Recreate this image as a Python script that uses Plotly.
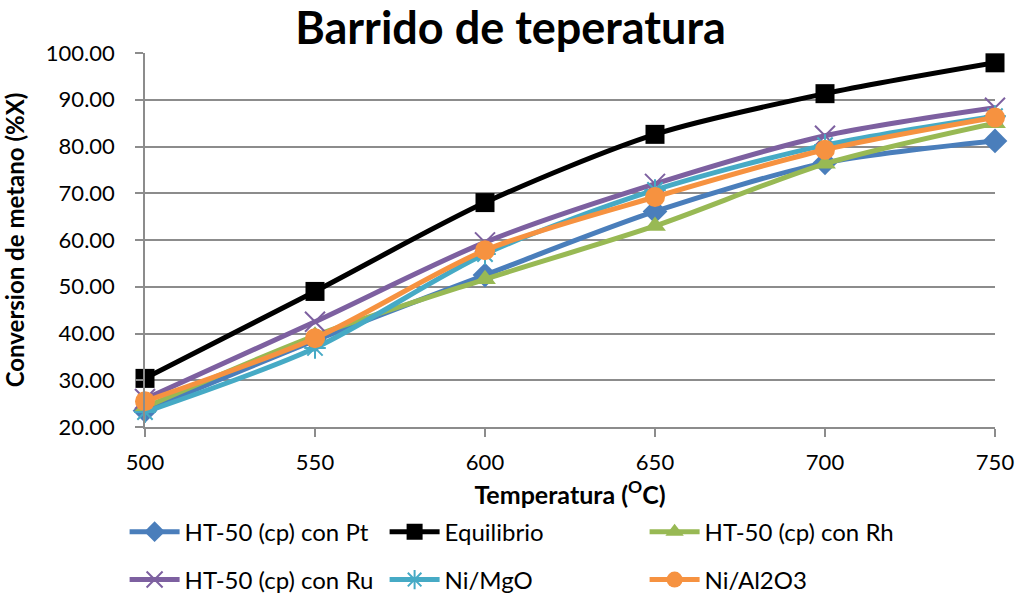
import plotly.graph_objects as go

# Temperature sweep: methane conversion per catalyst
temperatures = [500, 550, 600, 650, 700, 750]

conv_pt = [23.5, 38.5, 52.5, 66.1, 76.5, 81.2]
conv_equilibrio = [30.4, 49.0, 68.0, 82.6, 91.3, 97.9]
conv_rh = [24.2, 39.5, 51.6, 63.0, 76.3, 85.0]
conv_ru = [26.0, 42.5, 59.5, 72.0, 82.3, 88.3]
conv_mgo = [23.2, 36.9, 57.0, 70.7, 80.3, 86.5]
conv_al2o3 = [25.5, 39.0, 57.8, 69.2, 79.3, 86.2]

y_ticks = [20, 30, 40, 50, 60, 70, 80, 90, 100]

FONT = "Lato"
GRID = "#8c8c8c"

series = [
    # name, values, color, symbol, size, legend
    ("HT-50 (cp) con Pt", conv_pt, "#4A7EBB", "diamond", 19, "legend"),
    ("Equilibrio", conv_equilibrio, "#000000", "square", 19, "legend"),
    ("HT-50 (cp) con Rh", conv_rh, "#98B954", "triangle-up", 19, "legend"),
    ("HT-50 (cp) con Ru", conv_ru, "#7D60A0", "x-thin", 20, "legend2"),
    ("Ni/MgO", conv_mgo, "#46AAC5", "asterisk", 18, "legend2"),
    ("Ni/Al2O3", conv_al2o3, "#F69240", "circle", 20, "legend2"),
]

fig = go.Figure()
for name, vals, color, symbol, size, leg in series:
    thin = symbol in ("x-thin", "asterisk")
    fig.add_trace(go.Scatter(
        x=temperatures, y=vals, name=name, mode="lines+markers",
        line=dict(color=color, width=5, shape="spline", smoothing=0.8),
        marker=dict(symbol=symbol, size=size, color=color,
                    line=dict(color=color, width=2 if thin else 0)),
        cliponaxis=False, legend=leg,
    ))

legend_common = dict(orientation="h", xanchor="left", yanchor="middle",
                     entrywidth=195, entrywidthmode="pixels", itemwidth=50,
                     font=dict(family=FONT, size=24), bgcolor="rgba(0,0,0,0)")

fig.update_layout(
    width=1021, height=597,
    margin=dict(l=145, r=26, t=53, b=170, autoexpand=False),
    paper_bgcolor="white", plot_bgcolor="white",
    font=dict(family=FONT, size=22, color="#000000"),
    title=dict(text="<b>Barrido de teperatura</b>", x=0.5, xanchor="center",
               y=0.953, yanchor="middle", font=dict(family=FONT, size=45)),
    xaxis=dict(
        range=[500, 750], tickmode="array", tickvals=temperatures,
        showgrid=False, showline=True, linecolor=GRID, linewidth=1.5,
        ticks="outside", ticklen=8, tickcolor=GRID, tickwidth=1.5,
        ticklabelstandoff=7, zeroline=False,
        title=dict(text="<b>Temperatura (<sup>O</sup>C)</b>",
                   font=dict(family=FONT, size=25), standoff=12),
    ),
    yaxis=dict(
        range=[20, 100], tickmode="array", tickvals=y_ticks, tickformat=".2f",
        showgrid=True, gridcolor=GRID, gridwidth=1.5,
        showline=True, linecolor=GRID, linewidth=1.5,
        ticks="outside", ticklen=8, tickcolor=GRID, tickwidth=1.5,
        ticklabelstandoff=16, zeroline=False,
        title=dict(text="<b>Conversion de metano (%X)</b>",
                   font=dict(family=FONT, size=24), standoff=14),
    ),
    legend=dict(x=-0.024, y=-0.281, **legend_common),
    legend2=dict(x=-0.024, y=-0.409, **legend_common),
)

fig.write_html("out.html")
